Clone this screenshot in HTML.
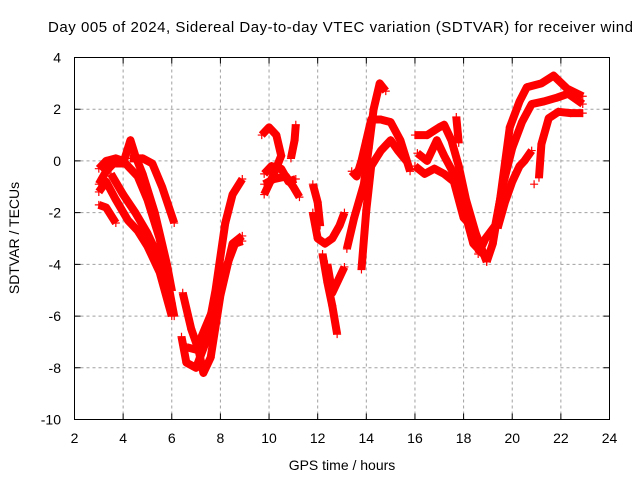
<!DOCTYPE html>
<html><head><meta charset="utf-8"><style>
html,body{margin:0;padding:0;background:#fff}
svg{display:block;font-family:"Liberation Sans",sans-serif}
</style></head><body>
<svg id="chart" width="640" height="480" viewBox="0 0 640 480">
<text x="48" y="32" font-size="15" textLength="585" lengthAdjust="spacing" fill="#000">Day 005 of 2024, Sidereal Day-to-day VTEC variation (SDTVAR) for receiver wind</text>
<g id="grid"></g>
<g id="series"></g>
<rect x="74.5" y="57.5" width="535" height="362" fill="none" stroke="#000" stroke-width="1"/>
<g id="ticks"></g>
<text x="342" y="470" font-size="14" text-anchor="middle">GPS time / hours</text>
<text transform="translate(19,238) rotate(-90)" font-size="14" text-anchor="middle">SDTVAR / TECUs</text>
</svg>
<script>
const xTicks = [2,4,6,8,10,12,14,16,18,20,22,24];
const yTicks = [4,2,0,-2,-4,-6,-8,-10];
const trackTimes = [
 [3.0,3.3,3.7,4.0,4.2,4.6,5.0,5.5,6.0,6.1],
 [3.0,3.3,3.6,4.0,4.3,4.5,4.8,5.3,5.8,6.0],
 [3.0,3.3,3.7,4.2,4.6,5.0,5.5,6.0],
 [3.0,3.3,3.7],
 [4.3,4.8,5.2,5.6,6.1],
 [3.5,4.0,4.5,5.0,5.5,6.0],
 [6.45,6.8,7.1,7.3,7.6,8.0,8.5,8.9],
 [6.4,6.6,7.0,7.4,7.8,8.2,8.5,8.9],
 [6.6,7.0,7.4,7.8,8.2,8.6,8.9],
 [9.7,10.0,10.3,10.5,10.2,9.8],
 [9.8,10.1,10.5,10.8,11.1],
 [9.8,10.2,10.7,11.0,11.25],
 [10.9,11.05,11.1],
 [11.8,12.0,12.1],
 [11.8,12.0,12.3,12.6,12.9,13.1],
 [12.2,12.4,12.6,12.8],
 [12.4,12.6,12.85,13.1],
 [13.2,13.5,13.9,14.1,14.3,14.55,14.8],
 [13.4,13.6,13.8,14.0,14.2,14.6,15.0,15.4,15.8],
 [13.8,14.0,14.2,14.6,15.0,15.3,15.65],
 [16.0,16.5,17.0,17.2,17.5,17.8,18.1,18.5,18.95],
 [16.1,16.5,16.9,17.2,17.6,18.0,18.4,18.8],
 [16.0,16.4,16.8,17.2,17.6,18.0,18.3],
 [17.7,17.8],
 [18.95,19.2,19.5,19.9,20.3,20.6,21.2,21.7,22.25,22.9],
 [18.6,18.9,19.3,19.6,20.0,20.4,20.8,21.3,21.85,22.3,22.9],
 [19.4,19.7,20.0,20.3,20.5,20.8],
 [21.1,21.2,21.5,21.9,22.4,22.9],
 [20.9]
];
const trackValues = [
 [-0.3,0,0.1,0,-0.2,-0.6,-1.5,-3.0,-5.5,-6],
 [-0.9,-0.4,-0.1,-0.1,0.8,0.2,-0.5,-2,-4,-5],
 [-1.2,-0.8,-1.5,-2.3,-2.7,-3.3,-4.3,-6],
 [-1.7,-1.8,-2.4],
 [0.1,0.1,-0.1,-1.0,-2.4],
 [-0.5,-1.3,-2.0,-2.8,-3.8,-5],
 [-5.1,-6.5,-7.3,-8.2,-7.6,-5.2,-3.2,-2.9],
 [-6.8,-7.8,-8.0,-7.0,-5.0,-2.4,-1.3,-0.7],
 [-7.2,-7.3,-6.4,-5.5,-4.2,-3.2,-3.1],
 [1.0,1.3,1.0,0.2,-0.5,-1.3],
 [-0.5,-0.2,-0.3,-0.8,-0.7],
 [-0.9,-0.7,-0.6,-1.0,-1.4],
 [0.1,0.8,1.4],
 [-0.9,-1.6,-2.5],
 [-2.0,-3.0,-3.2,-3.0,-2.5,-2.0],
 [-3.6,-4.7,-5.6,-6.7],
 [-4.0,-5.1,-4.6,-4.1],
 [-3.4,-2.2,-0.9,0.5,2.0,3.0,2.7],
 [-0.4,-0.6,0.0,0.8,1.6,1.6,1.5,0.8,-0.4],
 [-4.2,-1.9,-0.2,0.4,0.8,0.4,0.0],
 [1.0,1.0,1.3,1.4,0.8,-0.2,-1.5,-2.8,-3.9],
 [0.3,0.0,0.8,0.2,-0.5,-1.8,-3.2,-3.6],
 [-0.2,-0.5,-0.3,-0.5,-0.8,-2.2,-2.5],
 [1.7,0.7],
 [-3.9,-3.2,-1.5,1.3,2.3,2.85,3.0,3.3,2.8,2.5],
 [-3.6,-3.0,-2.5,-1.0,0.5,1.5,2.2,2.3,2.45,2.6,2.2],
 [-2.6,-1.6,-0.8,-0.2,0.0,0.4],
 [-0.65,0.65,1.65,1.9,1.85,1.85],
 [-0.9]
];
const NS='http://www.w3.org/2000/svg';
const X0=74.5,X1=609.5,Y0=57.5,Y1=419.5;
function xs(v){return X0+(v-2)/(24-2)*(X1-X0);}
function ys(v){return Y1-(v+10)/14*(Y1-Y0);}
const grid=document.getElementById('grid'),ticks=document.getElementById('ticks'),ser=document.getElementById('series');
xTicks.forEach(t=>{
 const x=xs(t);
 if(t>2&&t<24){
  const g=document.createElementNS(NS,'line');
  g.setAttribute('x1',x);g.setAttribute('x2',x);g.setAttribute('y1',Y0);g.setAttribute('y2',Y1);
  g.setAttribute('stroke','#a0a0a0');g.setAttribute('stroke-dasharray','3,3');
  
  
  grid.appendChild(g);
 }
 const tk=document.createElementNS(NS,'path');
 tk.setAttribute('d',`M${x},${Y1}v-6M${x},${Y0}v6`);tk.setAttribute('stroke','#000');
 
 
 ticks.appendChild(tk);
 const l=document.createElementNS(NS,'text');
 l.setAttribute('x',x);l.setAttribute('y',443);l.setAttribute('font-size','14');l.setAttribute('text-anchor','middle');
 l.textContent=t;
 
 
 ticks.appendChild(l);
});
yTicks.forEach(t=>{
 const y=ys(t);
 if(t>-10&&t<4){
  const g=document.createElementNS(NS,'line');
  g.setAttribute('x1',X0);g.setAttribute('x2',X1);g.setAttribute('y1',y);g.setAttribute('y2',y);
  g.setAttribute('stroke','#a0a0a0');g.setAttribute('stroke-dasharray','3,3');
  
  
  grid.appendChild(g);
 }
 const tk=document.createElementNS(NS,'path');
 tk.setAttribute('d',`M${X0},${y}h6M${X1},${y}h-6`);tk.setAttribute('stroke','#000');
 
 
 ticks.appendChild(tk);
 const l=document.createElementNS(NS,'text');
 l.setAttribute('x',61);l.setAttribute('y',y+5);l.setAttribute('font-size','14');l.setAttribute('text-anchor','end');
 l.textContent=t;
 
 
 ticks.appendChild(l);
});
trackTimes.forEach((tt,i)=>{
 const vv=trackValues[i];
 if(tt.length>1){
  const pts=tt.map((t,j)=>xs(t)+','+ys(vv[j])).join(' ');
  const pl=document.createElementNS(NS,'polyline');
  pl.setAttribute('points',pts);pl.setAttribute('fill','none');pl.setAttribute('stroke','#ff0000');
  pl.setAttribute('stroke-width','8');pl.setAttribute('stroke-linejoin','round');pl.setAttribute('stroke-linecap','butt');
  
  
  ser.appendChild(pl);
 }
 tt.forEach((t,j)=>{
  const x=xs(t),y=ys(vv[j]);
  const m=document.createElementNS(NS,'path');
  m.setAttribute('d',`M${x-4},${y}h8M${x},${y-4}v8`);m.setAttribute('stroke','#ff0000');m.setAttribute('stroke-width','1.2');
  
  
  ser.appendChild(m);
 });
});
</script>
</body></html>
